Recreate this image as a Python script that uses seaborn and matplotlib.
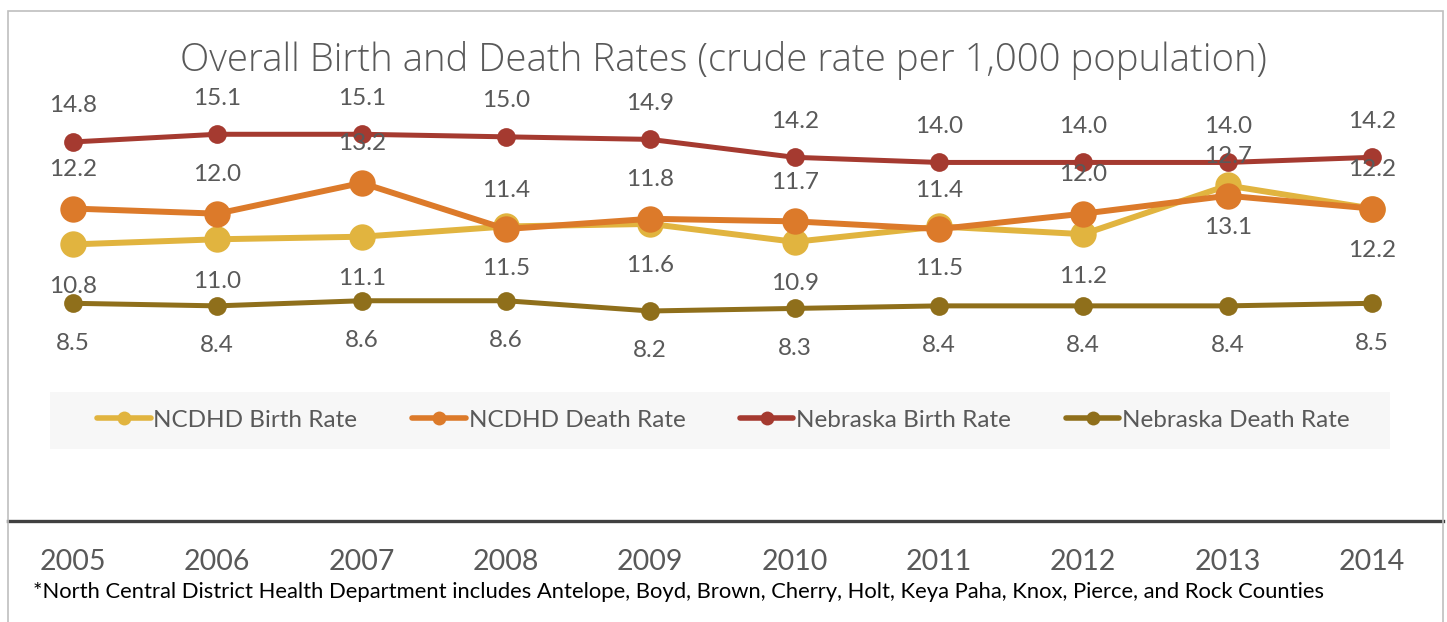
import numpy as np
import pandas as pd
import matplotlib.pyplot as plt
import matplotlib.patches as mpatches
from matplotlib.lines import Line2D
import seaborn as sns

# data
years = [2005, 2006, 2007, 2008, 2009, 2010, 2011, 2012, 2013, 2014]
ncdhd_birth = [10.8, 11.0, 11.1, 11.5, 11.6, 10.9, 11.5, 11.2, 13.1, 12.2]
ncdhd_death = [12.2, 12.0, 13.2, 11.4, 11.8, 11.7, 11.4, 12.0, 12.7, 12.2]
nebraska_birth = [14.8, 15.1, 15.1, 15.0, 14.9, 14.2, 14.0, 14.0, 14.0, 14.2]
nebraska_death = [8.5, 8.4, 8.6, 8.6, 8.2, 8.3, 8.4, 8.4, 8.4, 8.5]

series_names = ["NCDHD Birth Rate", "NCDHD Death Rate",
                "Nebraska Birth Rate", "Nebraska Death Rate"]
series_values = [ncdhd_birth, ncdhd_death, nebraska_birth, nebraska_death]

title = "Overall Birth and Death Rates (crude rate per 1,000 population)"
footnote = ("*North Central District Health Department includes Antelope, Boyd, "
            "Brown, Cherry, Holt, Keya Paha, Knox, Pierce, and Rock Counties")

# styles
colors = ["#E1B43F", "#DC7A2A", "#A53A30", "#8F6F1B"]
marker_sizes = [19, 19, 13.5, 13.5]
line_widths = [4.3, 4.3, 3.6, 3.6]
label_offsets = [-42, 39, 36, -40]   # pixels, + above / - below
TEXT = "#595959"

df = pd.DataFrame({
    "Year": years * len(series_names),
    "Rate": sum(series_values, []),
    "Series": np.repeat(series_names, len(years)),
})

sns.set_style("white")
plt.rcParams["font.family"] = ["Lato", "DejaVu Sans"]

W, H = 1447, 622
fig = plt.figure(figsize=(W / 100, H / 100), dpi=100)
ax = fig.add_axes([8 / W, (H - 521) / H, (1443 - 8) / W, (521 - 60) / H])

for name, color, ms, lw, off in zip(series_names, colors, marker_sizes,
                                     line_widths, label_offsets):
    sub = df[df["Series"] == name]
    sns.lineplot(data=sub, x="Year", y="Rate", color=color, marker="o",
                 markersize=ms, linewidth=lw, markeredgewidth=0,
                 ax=ax, legend=False, errorbar=None)
    for x, v in zip(sub["Year"], sub["Rate"]):
        ax.annotate(f"{v:.1f}", (x, v), xytext=(0, off),
                    textcoords="offset pixels", ha="center", va="center",
                    fontsize=17.5, color=TEXT, zorder=10)

ax.set_xlim(years[0] - 0.45, years[-1] + 0.492)
ax.set_ylim(0, 18)
ax.set_xticks(years)
ax.set_xticklabels([str(y) for y in years], fontsize=20.5, color=TEXT)
ax.set_yticks([])
ax.set_xlabel("")
ax.set_ylabel("")
ax.tick_params(axis="x", length=0, pad=20)
for side in ["top", "left", "right"]:
    ax.spines[side].set_visible(False)
ax.spines["bottom"].set_color("#404040")
ax.spines["bottom"].set_linewidth(2.4)
ax.patch.set_alpha(0)

# legend: grey band behind, entries centred on it
fig.patches.append(mpatches.Rectangle(
    (50 / W, (H - 449) / H), 1340 / W, 57 / H, transform=fig.transFigure,
    facecolor="#F7F7F7", edgecolor="none", zorder=0))
handles = [Line2D([0], [0], color=c, linewidth=4, marker="o", markersize=10,
                  markeredgewidth=0) for c in colors]
leg = fig.legend(handles, series_names, loc="center", ncol=4,
                 bbox_to_anchor=(723.5 / W, (H - 420) / H),
                 frameon=False, fontsize=17.5, handlelength=2.2,
                 handletextpad=0.12, columnspacing=2.25, borderpad=0)
for t in leg.get_texts():
    t.set_color(TEXT)

fig.text(0.5, (H - 61) / H, title, ha="center", va="center",
         fontsize=27.6, color=TEXT, family=["Open Sans", "Lato"],
         fontweight="light")
fig.text(33 / W, (H - 592) / H, footnote, ha="left", va="center",
         fontsize=15.8, color="#000000")

# chart border
fig.patches.append(mpatches.Rectangle(
    (8 / W, -0.05), (1443 - 8) / W, (H - 11) / H + 0.05,
    transform=fig.transFigure, fill=False, edgecolor="#BFBFBF", linewidth=1.2))

fig.savefig("out.png", dpi=100)
